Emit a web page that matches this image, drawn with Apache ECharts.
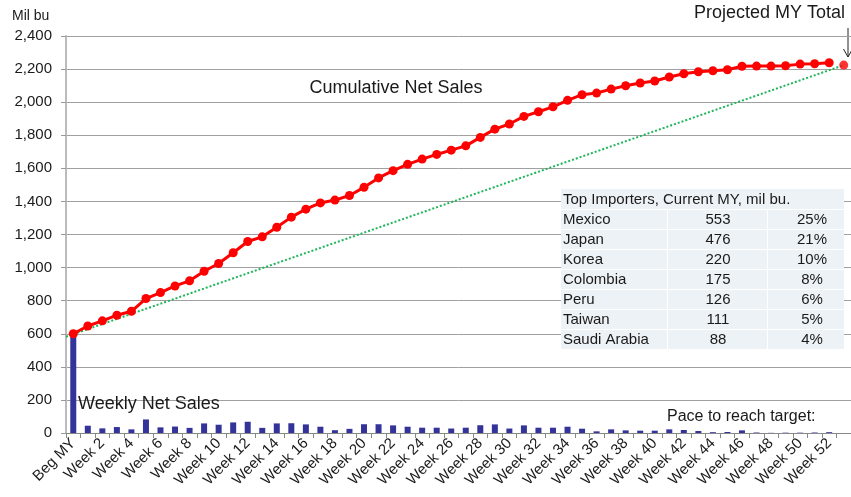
<!DOCTYPE html>
<html><head><meta charset="utf-8">
<script src="https://cdn.jsdelivr.net/npm/echarts@6/dist/echarts.min.js"></script>
<style>html,body{margin:0;padding:0;background:#fff;overflow:hidden}#c{width:851px;height:497px}</style>
</head><body><div id="c"></div><script>
const categories = ['Beg MY','Week 1','Week 2','Week 3','Week 4','Week 5','Week 6','Week 7','Week 8','Week 9','Week 10',
  'Week 11','Week 12','Week 13','Week 14','Week 15','Week 16','Week 17','Week 18','Week 19','Week 20',
  'Week 21','Week 22','Week 23','Week 24','Week 25','Week 26','Week 27','Week 28','Week 29','Week 30',
  'Week 31','Week 32','Week 33','Week 34','Week 35','Week 36','Week 37','Week 38','Week 39','Week 40',
  'Week 41','Week 42','Week 43','Week 44','Week 45','Week 46','Week 47','Week 48','Week 49','Week 50',
  'Week 51','Week 52','Projected'];
const cumulativeSales = [600,647,678,712,736,813,849,889,920,978,1025,1090,1158,1186,1244,1305,1353,1391,1408,1436,1485,
  1542,1586,1624,1656,1684,1710,1736,1787,1837,1868,1914,1942,1972,2011,2045,2055,2079,2099,2116,2128,
  2152,2172,2184,2190,2196,2217,2218,2218,2220,2230,2232,2238];
const weeklySales = [600,44,28,36,22,82,34,39,31,58,50,64,68,31,58,59,52,38,17,25,53,53,46,38,32,32,27,32,47,52,27,
  46,32,32,38,26,10,22,16,14,14,22,18,12,5,6,16,3,1,2,2,3,5];
const projectedTotal = 2224;
const paceStart = 582;
const yMin = 0, yMax = 2400, yStep = 200;
const tableTitle = 'Top Importers, Current MY, mil bu.';
const importers = ['Mexico','Japan','Korea','Colombia','Peru','Taiwan','Saudi Arabia'];
const importVolumes = [553,476,220,175,126,111,88];
const importShares = ['25%','21%','10%','8%','6%','5%','4%'];

const FONT = '"Liberation Sans", Arial, sans-serif';
const TXT = '#1a1a1a';
const chart = echarts.init(document.getElementById('c'), null, {renderer:'canvas'});

const graphics = [];
// table
const tx = 561, ty = 189, tw = 283, rowH = 20;
graphics.push({type:'rect', z:5, shape:{x:tx, y:ty, width:tw, height:rowH*(importers.length+1)}, style:{fill:'#edf2f7'}});
for (let i = 1; i <= importers.length; i++) {
  graphics.push({type:'line', z:6, shape:{x1:tx, y1:ty+i*rowH+0.5, x2:tx+tw, y2:ty+i*rowH+0.5}, style:{stroke:'#ffffff', lineWidth:1}});
}
[667, 767].forEach(x => graphics.push({type:'line', z:6, shape:{x1:x+0.5, y1:ty+rowH, x2:x+0.5, y2:ty+rowH*(importers.length+1)}, style:{stroke:'#ffffff', lineWidth:1}}));
graphics.push({type:'text', z:7, x:tx+2, y:ty+rowH/2+1, style:{text:tableTitle, font:'15px '+FONT, fill:TXT, textVerticalAlign:'middle'}});
importers.forEach((name, i) => {
  const cy = ty + (i+1)*rowH + rowH/2 + 1;
  graphics.push({type:'text', z:7, x:tx+2, y:cy, style:{text:name, font:'15px '+FONT, fill:TXT, textVerticalAlign:'middle'}});
  graphics.push({type:'text', z:7, x:718, y:cy, style:{text:String(importVolumes[i]), font:'15px '+FONT, fill:TXT, textAlign:'center', textVerticalAlign:'middle'}});
  graphics.push({type:'text', z:7, x:812, y:cy, style:{text:importShares[i], font:'15px '+FONT, fill:TXT, textAlign:'center', textVerticalAlign:'middle'}});
});
// annotations
graphics.push({type:'text', x:12, y:16, style:{text:'Mil bu', font:'14px '+FONT, fill:TXT, textVerticalAlign:'middle'}});
graphics.push({type:'text', x:396, y:88, style:{text:'Cumulative Net Sales', font:'18px '+FONT, fill:TXT, textAlign:'center', textVerticalAlign:'middle'}});
graphics.push({type:'text', z:7, x:78, y:404, style:{text:'Weekly Net Sales', font:'18px '+FONT, fill:TXT, textVerticalAlign:'middle'}});
graphics.push({type:'text', x:667, y:417, style:{text:'Pace to reach target:', font:'16px '+FONT, fill:TXT, textVerticalAlign:'middle'}});
graphics.push({type:'text', x:845, y:13, style:{text:'Projected MY Total', font:'18px '+FONT, fill:TXT, textAlign:'right', textVerticalAlign:'middle'}});
graphics.push({type:'line', shape:{x1:848, y1:28, x2:848, y2:57}, style:{stroke:'#222', lineWidth:1}});
graphics.push({type:'polyline', shape:{points:[[843.5,49],[848,57],[852.5,49]]}, style:{stroke:'#222', lineWidth:1, fill:null}});

const option = {
  animation:false,
  backgroundColor:'#ffffff',
  textStyle:{fontFamily:FONT},
  grid:{left:66, right:-9, top:36, bottom:64, containLabel:false},
  xAxis:[{
    type:'category', data:categories, boundaryGap:true,
    axisLine:{onZero:false, lineStyle:{color:'#888', width:1}},
    axisTick:{show:true, interval:0, length:5, lineStyle:{color:'#888'}},
    axisLabel:{interval:1, rotate:45, fontSize:15, color:TXT, fontFamily:FONT, margin:8},
    splitLine:{show:false}
  },{
    type:'value', min:-0.5, max:categories.length-0.5, show:false
  }],
  yAxis:{
    type:'value', min:yMin, max:yMax, interval:yStep,
    axisLine:{show:true, onZero:false, lineStyle:{color:'#bbb', width:2}},
    axisTick:{show:true, length:5, lineStyle:{color:'#999'}},
    axisLabel:{fontSize:15, color:TXT, fontFamily:FONT, margin:14, formatter:v => v.toLocaleString('en-US')},
    splitLine:{lineStyle:{color:'#a0a0a0', width:1}}
  },
  graphic:graphics,
  series:[
    {type:'bar', name:'Weekly Net Sales', data:weeklySales, barWidth:6, itemStyle:{color:'#333399'}, z:2},
    {type:'line', name:'Pace', xAxisIndex:1, data:[[-0.5, paceStart],[categories.length-1, projectedTotal]],
      symbol:'none', lineStyle:{color:'#1fb55a', width:2, type:[2,2]}, z:3},
    {type:'line', name:'Cumulative Net Sales', data:cumulativeSales, symbol:'circle', symbolSize:9,
      itemStyle:{color:'#ff0000'}, lineStyle:{color:'#ff0000', width:3}, z:4},
    {type:'scatter', name:'Projected', data:[[categories[categories.length-1], projectedTotal]], symbol:'circle', symbolSize:9,
      itemStyle:{color:'#ff0000'}, z:4}
  ]
};
chart.setOption(option);
</script></body></html>
